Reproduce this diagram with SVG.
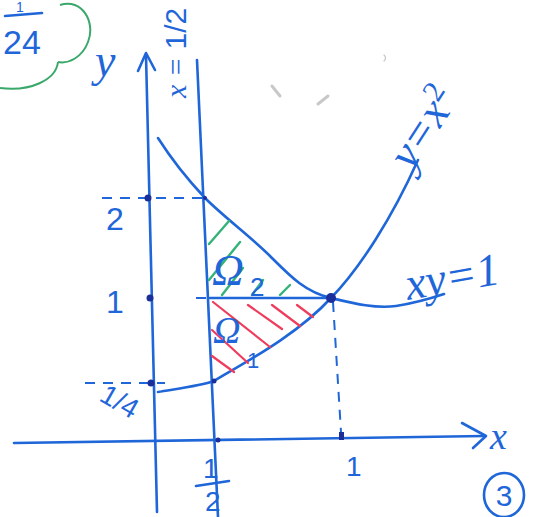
<svg xmlns="http://www.w3.org/2000/svg" width="535" height="517" viewBox="0 0 535 517">
<style>
.pen{fill:none;stroke:#1f66d9;stroke-width:2.6;stroke-linecap:round;stroke-linejoin:round}
.dash{fill:none;stroke:#1f66d9;stroke-width:2;stroke-dasharray:10 8}
.dot{fill:#1a2f9a}
.gh{stroke:#34b27a;stroke-width:2.4;stroke-linecap:round}
.rh{stroke:#f03c5c;stroke-width:2.2;stroke-linecap:round}
.t{font-family:"Liberation Serif",serif;font-style:italic;fill:#1f66d9}
.n{font-family:"Liberation Sans",sans-serif;fill:#1f66d9}
</style>
<rect width="535" height="517" fill="#ffffff"/>
<g id="stray" fill="none" stroke="#c8c8c8" stroke-width="3" stroke-linecap="round">
<path d="M272,86 L280,96"/>
<path d="M318,104 L328,96"/>
<path d="M384,55 q3,3 0,6" stroke-width="1.2"/>
</g>
<g id="note">
<text class="n" x="16" y="12" font-size="14">1</text>
<line x1="5" y1="16" x2="42" y2="13" class="pen"/>
<text class="n" x="3" y="54" font-size="34">24</text>
<path d="M60,5 C82,-2 96,22 88,42 C82,58 68,64 58,62 M58,62 C56,80 30,92 0,88" fill="none" stroke="#3aa86a" stroke-width="2"/>
</g>
<g id="connectors">
<path id="y-axis" class="pen" d="M146,55 L157,512"/>
<path class="pen" d="M138,71 L146,53 L155,70"/>
<path id="x-axis" class="pen" d="M14,443 L484,436"/>
<path class="pen" d="M462,423 L486,436 L473,448"/>
<path id="x-half" class="pen" d="M197,60 L218,517"/>
<path class="dash" d="M102,198 L204,198"/>
<path class="dash" d="M85,383 L165,383"/>
<path class="dash" d="M196,298 L208,298" stroke-dasharray="2 5"/>
<path class="dash" d="M333,302 L341,432" stroke-dasharray="9 7" stroke-width="1.6"/>
<path id="hyperbola" class="pen" d="M158,138 C172,160 190,182 205,198 C225,218 250,236 270,256 C290,276 305,292 331,298 C352,303 375,309 396,306 C415,303 432,298 444,294"/>
<path id="parabola" class="pen" d="M158,392 C175,389 200,386 214,381 C242,364 296,336 331,298 C360,268 392,218 418,160"/>
<path id="y-one" class="pen" d="M210,298 L331,298"/>
</g>
<g id="hatch-omega2">
<line class="gh" x1="209" y1="244" x2="229" y2="221"/>
<line class="gh" x1="209" y1="280" x2="240" y2="242"/>
<line class="gh" x1="222" y1="295" x2="243" y2="268"/>
<line class="gh" x1="252" y1="295" x2="263" y2="280"/>
<line class="gh" x1="280" y1="295" x2="290" y2="285"/>
</g>
<g id="hatch-omega1">
<line class="rh" x1="213" y1="302" x2="270" y2="347"/>
<line class="rh" x1="212" y1="330" x2="248" y2="363"/>
<line class="rh" x1="212" y1="356" x2="234" y2="372"/>
<line class="rh" x1="248" y1="305" x2="282" y2="329"/>
<line class="rh" x1="272" y1="305" x2="300" y2="326"/>
<line class="rh" x1="297" y1="305" x2="313" y2="317"/>
</g>
<g id="points">
<circle class="dot" cx="148" cy="198" r="3.5"/>
<circle class="dot" cx="150" cy="298" r="3.5"/>
<circle class="dot" cx="151" cy="383" r="3.5"/>
<circle class="dot" cx="331" cy="298" r="5"/>
<circle class="dot" cx="214" cy="381" r="2.5"/>
<circle class="dot" cx="205" cy="198" r="2"/>
<circle class="dot" cx="218" cy="440" r="2.5"/>
<rect class="dot" x="339" y="432" width="5" height="8"/>
</g>
<g id="labels">
<text class="t" x="95" y="76" font-size="46">y</text>
<text class="t" x="490" y="449" font-size="38">x</text>
<text class="t" transform="translate(186,98) rotate(-90)" font-size="30">x = <tspan class="n" font-style="normal">1/2</tspan></text>
<text class="t" transform="translate(412,172) rotate(-57)" font-size="46">y=x<tspan dy="-16" font-size="30" font-style="normal">2</tspan></text>
<text class="t" transform="translate(408,300) rotate(-10)" font-size="46">xy=1</text>
<text class="t" x="212" y="285" font-size="44">Ω</text>
<text class="n" x="250" y="296" font-size="26">2</text>
<text class="t" x="213" y="343" font-size="38">Ω</text>
<text class="n" x="247" y="368" font-size="22">1</text>
<text class="n" x="106" y="230" font-size="32">2</text>
<text class="n" x="106" y="313" font-size="32">1</text>
<text class="n" transform="translate(98,400) rotate(30)" font-size="28">1/4</text>
<text class="n" x="203" y="478" font-size="28">1</text>
<line class="pen" x1="196" y1="486" x2="229" y2="481"/>
<text class="n" x="205" y="511" font-size="28">2</text>
<text class="n" x="346" y="476" font-size="28">1</text>
<ellipse cx="504" cy="495" rx="20" ry="22" class="pen" stroke-width="2"/>
<text class="n" x="504" y="506" font-size="30" text-anchor="middle">3</text>
</g>
</svg>
